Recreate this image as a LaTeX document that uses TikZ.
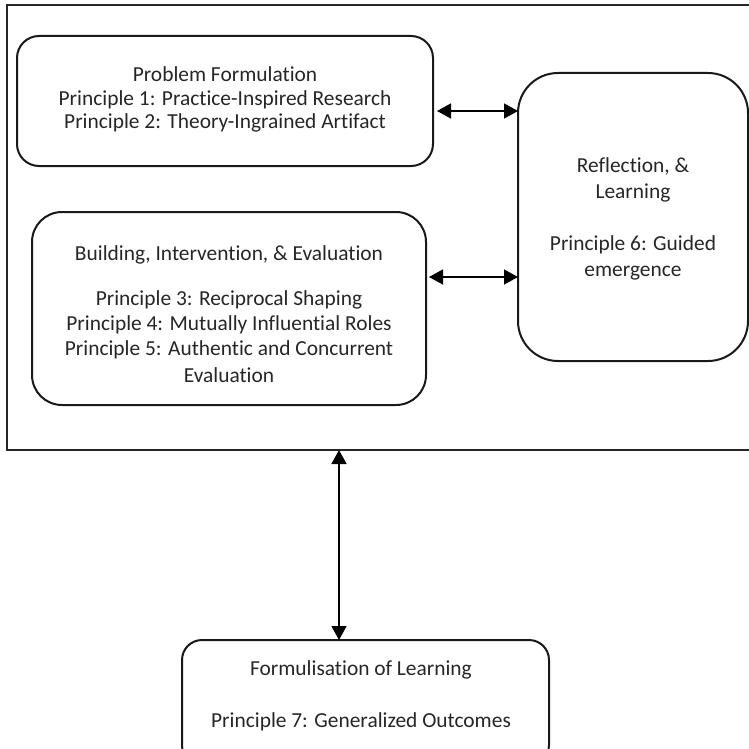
\documentclass[tikz,border=0pt]{standalone}
\usepackage{fontspec}
\setmainfont[Ligatures=NoCommon]{Carlito}
\usetikzlibrary{arrows.meta}
\tikzset{
  box/.style={draw=black!90, line width=2pt, align=center, inner sep=0pt},
  link/.style={line width=1.4pt, {Triangle[length=14pt,width=15pt]}-{Triangle[length=14pt,width=15pt]}},
  txt/.style={font=\fontsize{21.4}{25}\selectfont, align=center, text=black!85}
}
\begin{document}
\begin{tikzpicture}[x=1pt,y=-1pt]
\useasboundingbox (0,0) rectangle (749,749);
\clip (0,0) rectangle (749,749);
% outer frame
\draw[line width=2.6pt, draw=black!85] (7,5) rectangle (770,450);
% boxes
\draw[box, rounded corners=22pt] (17,36) rectangle (433,166);
\node[txt] (pf) at (225,99) {Problem Formulation\\[-1pt]Principle 1: Practice-Inspired Research\\[-2pt]Principle 2: Theory-Ingrained Artifact};
\draw[box, rounded corners=30pt] (32,212) rectangle (426,405);
\node[txt] (bie) at (229,314) {Building, Intervention, \& Evaluation\\[20pt]Principle 3: Reciprocal Shaping\\Principle 4: Mutually Influential Roles\\Principle 5: Authentic and Concurrent\\[2pt]Evaluation};
\draw[box, rounded corners=40pt] (518,73) rectangle (748,361);
\node[txt] (rl) at (633,219) {Reflection, \&\\[1pt]Learning\\[27pt]Principle 6: Guided\\[1pt]emergence};
\draw[box, rounded corners=20pt] (182,640) rectangle (549,765);
\node[txt] (fl) at (361,696) {Formulisation of Learning\\[27pt]Principle 7: Generalized Outcomes};
% connectors
\coordinate (a1l) at (437,111);
\coordinate (a1r) at (518,111);
\coordinate (a2l) at (429,277);
\coordinate (a2r) at (518,277);
\coordinate (vt) at (339,450);
\coordinate (vb) at (339,640);
\draw[link] (a1l) -- (a1r);
\draw[link] (a2l) -- (a2r);
\draw[link] (vt) -- (vb);
\end{tikzpicture}
\end{document}
